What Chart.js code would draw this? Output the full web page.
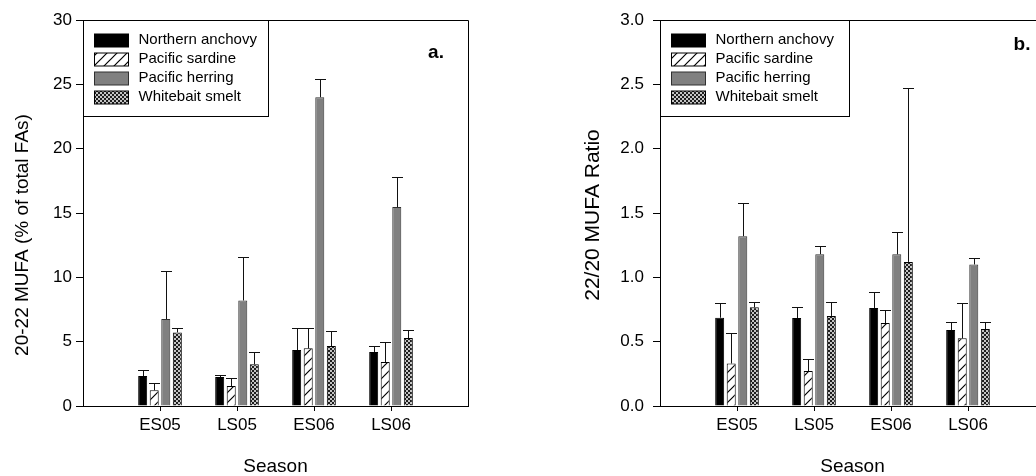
<!DOCTYPE html>
<html><head><meta charset="utf-8">
<script src="https://cdn.jsdelivr.net/npm/chart.js@4.4.1/dist/chart.umd.min.js"></script>
<style>
html,body{margin:0;padding:0;background:#fff;overflow:hidden;width:1036px;height:476px;position:relative;}
#ca{position:absolute;left:0;top:0;}
#cb{position:absolute;left:540px;top:0;}
</style></head><body>
<canvas id="ca" width="518" height="476"></canvas>
<canvas id="cb" width="520" height="476"></canvas>
<script>
// ---- data ----
const seasons = ['ES05', 'LS05', 'ES06', 'LS06'];
const species = ['Northern anchovy', 'Pacific sardine', 'Pacific herring', 'Whitebait smelt'];

// Panel a: 20-22 MUFA (% of total FAs)
const anchovyA = [2.33, 2.25, 4.35, 4.20];
const sardineA = [1.22, 1.55, 4.48, 3.42];
const herringA = [6.76, 8.20, 24.00, 15.46];
const smeltA   = [5.72, 3.24, 4.66, 5.28];
const anchovyErrA = [0.44, 0.15, 1.74, 0.49];
const sardineErrA = [0.57, 0.60, 1.56, 1.58];
const herringErrA = [3.74, 3.40, 1.40, 2.34];
const smeltErrA   = [0.38, 0.96, 1.14, 0.62];

// Panel b: 22/20 MUFA ratio
const anchovyB = [0.686, 0.684, 0.762, 0.590];
const sardineB = [0.330, 0.272, 0.645, 0.526];
const herringB = [1.320, 1.180, 1.179, 1.100];
const smeltB   = [0.767, 0.700, 1.120, 0.598];
const anchovyErrB = [0.114, 0.086, 0.122, 0.065];
const sardineErrB = [0.240, 0.091, 0.099, 0.274];
const herringErrB = [0.260, 0.066, 0.171, 0.048];
const smeltErrB   = [0.039, 0.106, 1.354, 0.052];

const yTicksA = [0, 5, 10, 15, 20, 25, 30];
const yTicksB = [0, 0.5, 1.0, 1.5, 2.0, 2.5, 3.0];

// ---- styles ----
const FAM = "'Liberation Sans', Arial, Helvetica, sans-serif";
Chart.defaults.font.family = FAM;
Chart.defaults.color = '#000';

function hatchPattern() {
  const c = document.createElement('canvas'); c.width = 10; c.height = 10;
  const g = c.getContext('2d');
  g.fillStyle = '#fff'; g.fillRect(0, 0, 10, 10);
  g.strokeStyle = '#000'; g.lineWidth = 1.2;
  g.beginPath();
  g.moveTo(0, 10); g.lineTo(10, 0);
  g.moveTo(-5, 5); g.lineTo(5, -5);
  g.moveTo(5, 15); g.lineTo(15, 5);
  g.stroke();
  return g.createPattern(c, 'repeat');
}
function checkPattern() {
  const c = document.createElement('canvas'); c.width = 4; c.height = 4;
  const g = c.getContext('2d');
  g.fillStyle = '#1e1e1e'; g.fillRect(0, 0, 4, 4);
  g.fillStyle = '#c4c4c4'; g.fillRect(0, 0, 2, 2); g.fillRect(2, 2, 2, 2);
  return g.createPattern(c, 'repeat');
}
const fills = ['#000000', hatchPattern(), '#808080', checkPattern()];
const borders = ['#000000', '#000000', '#303030', '#000000'];

function makeDatasets(vals, errs) {
  return vals.map((arr, k) => ({
    label: species[k],
    data: arr.map((v, i) => ({ x: i + 1, y: v })),
    errors: errs[k],
    backgroundColor: fills[k],
    borderColor: borders[k],
    borderWidth: 1,
    categoryPercentage: 0.6,
    barPercentage: 0.78
  }));
}

const errorBarPlugin = {
  id: 'errorBars',
  afterDatasetsDraw(chart) {
    const ctx = chart.ctx, ys = chart.scales.y;
    ctx.save();
    ctx.strokeStyle = '#111'; ctx.lineWidth = 1;
    chart.data.datasets.forEach((ds, di) => {
      const meta = chart.getDatasetMeta(di);
      meta.data.forEach((bar, i) => {
        const top = ys.getPixelForValue(ds.data[i].y + ds.errors[i]);
        const x = Math.round(bar.x) + 0.5;
        ctx.beginPath();
        ctx.moveTo(x, bar.y); ctx.lineTo(x, Math.round(top) + 0.5);
        ctx.moveTo(x - 5.5, Math.round(top) + 0.5); ctx.lineTo(x + 5.5, Math.round(top) + 0.5);
        ctx.stroke();
      });
    });
    ctx.restore();
  }
};

const decorPlugin = {
  id: 'decor',
  afterDraw(chart, args, o) {
    const ctx = chart.ctx, a = chart.chartArea;
    ctx.save();
    // frame: top & right
    ctx.strokeStyle = '#000'; ctx.lineWidth = 1;
    ctx.beginPath();
    ctx.moveTo(Math.round(a.left) + 0.5, Math.round(a.top) + 0.5);
    ctx.lineTo(Math.round(a.right) + 0.5, Math.round(a.top) + 0.5);
    ctx.lineTo(Math.round(a.right) + 0.5, Math.round(a.bottom) + 0.5);
    ctx.stroke();
    // legend box
    const lx = Math.round(a.left) + 0.5, ly = Math.round(a.top) + 0.5;
    ctx.fillStyle = '#fff';
    ctx.fillRect(lx, ly, o.legendW, 96);
    ctx.strokeRect(lx, ly, o.legendW, 96);
    ctx.font = '15px ' + FAM;
    ctx.textBaseline = 'middle'; ctx.textAlign = 'left';
    chart.data.datasets.forEach((ds, k) => {
      const cy = a.top + 20 + k * 19;
      ctx.fillStyle = ds.backgroundColor;
      ctx.fillRect(lx + 11, Math.round(cy - 6.5), 34, 13);
      ctx.strokeStyle = ds.borderColor;
      ctx.strokeRect(lx + 11, Math.round(cy - 6.5), 34, 13);
      ctx.fillStyle = '#000';
      ctx.fillText(ds.label, lx + o.textOff, cy);
    });
    // y-axis title
    ctx.save();
    ctx.translate(o.titleX, o.titleY);
    ctx.rotate(-Math.PI / 2);
    ctx.textAlign = 'center'; ctx.textBaseline = 'middle';
    ctx.font = o.titleSize + 'px ' + FAM;
    ctx.fillText(o.yTitle, 0, 0);
    ctx.restore();
    // panel label
    ctx.font = 'bold 19px ' + FAM;
    ctx.textAlign = 'center'; ctx.textBaseline = 'middle';
    ctx.fillText(o.panel, o.panelX, o.panelY);
    ctx.restore();
  }
};

function makeChart(id, vals, errs, yTicks, decimals, yWidth, padRight, tickPad, decor) {
  return new Chart(document.getElementById(id), {
    type: 'bar',
    data: { datasets: makeDatasets(vals, errs) },
    options: {
      responsive: false, animation: false,
      layout: { padding: { top: 20, right: padRight, left: 0, bottom: 0 } },
      plugins: { legend: { display: false }, tooltip: { enabled: false }, decor: decor },
      scales: {
        x: {
          type: 'linear', min: 0, max: seasons.length + 1, offset: false,
          afterBuildTicks: s => { s.ticks = seasons.map((_, i) => ({ value: i + 1 })); },
          afterFit: s => { s.height = 70; },
          ticks: { callback: v => seasons[v - 1] || '', font: { size: 17 }, color: '#000', padding: 4, maxRotation: 0, autoSkip: false },
          grid: { offset: false, drawOnChartArea: false, tickLength: 5, tickColor: '#000' },
          border: { color: '#000', width: 1 },
          title: { display: true, text: 'Season', font: { size: 19 }, color: '#000', padding: { top: 0, bottom: -2 } }
        },
        y: {
          min: yTicks[0], max: yTicks[yTicks.length - 1],
          afterBuildTicks: s => { s.ticks = yTicks.map(v => ({ value: v })); },
          afterFit: s => { s.width = yWidth; },
          ticks: { callback: v => v.toFixed(decimals), font: { size: 17 }, color: '#000', padding: tickPad },
          grid: { drawOnChartArea: false, tickLength: 7, tickColor: '#000' },
          border: { color: '#000', width: 1 }
        }
      }
    },
    plugins: [errorBarPlugin, decorPlugin]
  });
}

makeChart('ca',
  [anchovyA, sardineA, herringA, smeltA],
  [anchovyErrA, sardineErrA, herringErrA, smeltErrA],
  yTicksA, 0, 83, 50, 4,
  { legendW: 185, textOff: 55, yTitle: '20-22 MUFA (% of total FAs)', titleSize: 19, titleX: 23, titleY: 235, panel: 'a.', panelX: 436, panelY: 53 });

makeChart('cb',
  [anchovyB, sardineB, herringB, smeltB],
  [anchovyErrB, sardineErrB, herringErrB, smeltErrB],
  yTicksB, 1, 120, 15, 9,
  { legendW: 189, textOff: 55, yTitle: '22/20 MUFA Ratio', titleSize: 21, titleX: 53, titleY: 215, panel: 'b.', panelX: 482, panelY: 45 });
</script>
</body></html>
